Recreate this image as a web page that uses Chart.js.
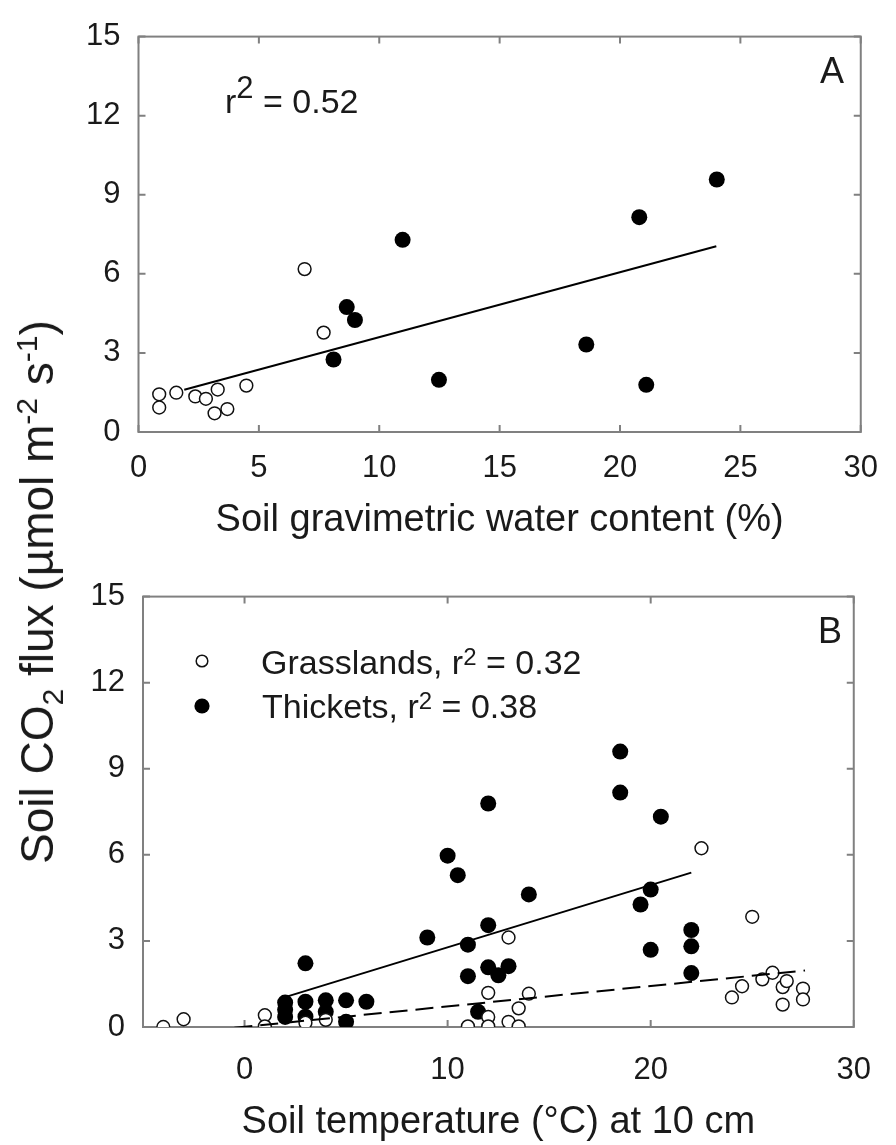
<!DOCTYPE html>
<html>
<head>
<meta charset="utf-8">
<script src="https://cdn.jsdelivr.net/npm/chart.js@4.4.1/dist/chart.umd.min.js"></script>
<style>
    html, body { margin: 0; padding: 0; background: #fff; }
    body { width: 896px; height: 1145px; position: relative; overflow: hidden; font-family: "Liberation Sans", Arial, sans-serif; }
    canvas { position: absolute; left: 0; }
    #chartA { top: 0; }
    #chartB { top: 560px; }
    #ytitle {
        position: absolute; left: 37px; top: 592px;
        transform: translate(-50%, -50%) rotate(-90deg);
        white-space: nowrap; font-size: 46px; color: #1a1a1a; line-height: 1;
    }
    #ytitle sub, #ytitle sup { font-size: 30px; line-height: 0; }
</style>
</head>
<body>
<canvas id="chartA" width="896" height="560"></canvas>
<canvas id="chartB" width="896" height="585"></canvas>
<div id="ytitle">Soil CO<sub>2</sub> flux (µmol m<sup>-2</sup> s<sup>-1</sup>)</div>
<script>
// panel A: soil gravimetric water content (%) vs soil CO2 flux
const gwcGrassX = [0.86, 0.86, 1.57, 2.36, 2.8, 3.29, 3.16, 3.69, 4.48, 6.9, 7.69];
const gwcGrassY = [1.43, 0.93, 1.49, 1.35, 1.26, 1.61, 0.71, 0.87, 1.76, 6.18, 3.77];
const gwcThicketX = [10.97, 8.65, 8.99, 8.1, 12.48, 18.6, 20.8, 21.09, 24.02];
const gwcThicketY = [7.29, 4.74, 4.25, 2.75, 1.98, 3.32, 8.15, 1.79, 9.58];
const gwcFitX = [1.9, 24.0];
const gwcFitY = [1.6, 7.05];

// panel B: soil temperature (°C) at 10 cm vs soil CO2 flux
const tempGrassX = [-4.0, -3.0, 1.0, 1.0, 3.0, 4.0, 11.0, 12.0, 12.0, 12.0, 13.0, 13.0, 13.5, 13.5, 14.0,
    22.5, 25.0, 24.0, 24.5, 25.5, 26.0, 26.5, 26.5, 26.7, 27.5, 27.5];
const tempGrassY = [0.0, 0.27, 0.41, 0.02, 0.15, 0.25, 0.02, 1.19, 0.35, 0.02, 3.12, 0.18, 0.65, 0.02, 1.16,
    6.23, 3.84, 1.03, 1.42, 1.66, 1.89, 1.39, 0.78, 1.6, 1.34, 0.96];
const tempThicketX = [2.0, 2.0, 2.0, 3.0, 3.0, 3.0, 4.0, 4.0, 5.0, 5.0, 6.0, 9.0, 10.0, 10.5, 11.0, 11.0, 11.5,
    12.0, 12.0, 12.0, 12.5, 13.0, 14.0, 18.5, 18.5, 19.5, 20.0, 20.0, 20.5, 22.0, 22.0, 22.0];
const tempThicketY = [0.85, 0.6, 0.35, 2.22, 0.88, 0.36, 0.93, 0.53, 0.93, 0.18, 0.88, 3.12, 5.97, 5.29, 2.87, 1.77, 0.53,
    7.79, 3.55, 2.08, 1.8, 2.12, 4.62, 9.6, 8.17, 4.27, 4.79, 2.69, 7.33, 3.38, 2.81, 1.88];
const tempGrassFitX = [-0.5, 27.6];
const tempGrassFitY = [-0.03, 1.97];
const tempThicketFitX = [2.0, 22.0];
const tempThicketFitY = [1.04, 5.38];

// tick labels
const xTicksA = [0, 5, 10, 15, 20, 25, 30];
const xTicksB = [0, 10, 20, 30];
const yTicks = [0, 3, 6, 9, 12, 15];

const FONT = '"Liberation Sans", Arial, sans-serif';
const INK = '#1a1a1a';
const FRAME = '#808080';

const pts = (xs, ys) => xs.map((x, i) => ({ x: x, y: ys[i] }));

function drawRich(ctx, parts, x, y, size, align) {
    let w = 0;
    parts.forEach(p => {
        ctx.font = `${Math.round(size * (p.scale || 1))}px ${FONT}`;
        w += ctx.measureText(p.t).width;
    });
    let cx = align === 'center' ? x - w / 2 : x;
    parts.forEach(p => {
        ctx.font = `${Math.round(size * (p.scale || 1))}px ${FONT}`;
        ctx.fillText(p.t, cx, y - (p.rise || 0));
        cx += ctx.measureText(p.t).width;
    });
}

// box round the plot with short inward ticks on every side
const framePlugin = {
    id: 'frame',
    beforeDatasetsDraw(chart) {
        const { ctx, chartArea: a, scales: { x, y } } = chart;
        ctx.save();
        ctx.strokeStyle = FRAME;
        ctx.lineWidth = 2;
        ctx.strokeRect(a.left, a.top, a.right - a.left, a.bottom - a.top);
        ctx.beginPath();
        x.ticks.forEach(t => {
            const px = x.getPixelForValue(t.value);
            ctx.moveTo(px, a.bottom); ctx.lineTo(px, a.bottom - 7);
            ctx.moveTo(px, a.top); ctx.lineTo(px, a.top + 7);
        });
        y.ticks.forEach(t => {
            const py = y.getPixelForValue(t.value);
            ctx.moveTo(a.left, py); ctx.lineTo(a.left + 7, py);
            ctx.moveTo(a.right, py); ctx.lineTo(a.right - 7, py);
        });
        ctx.stroke();
        ctx.restore();
    }
};

// annotations and the hand-made legend
const notesPlugin = {
    id: 'notes',
    afterDraw(chart, args, opts) {
        const ctx = chart.ctx;
        ctx.save();
        ctx.textBaseline = 'alphabetic';
        (opts.markers || []).forEach(m => {
            ctx.beginPath();
            ctx.arc(m.x, m.y, m.r, 0, Math.PI * 2);
            if (m.open) {
                ctx.fillStyle = '#fff'; ctx.fill();
                ctx.lineWidth = 1.5; ctx.strokeStyle = '#111'; ctx.stroke();
            } else {
                ctx.fillStyle = '#000'; ctx.fill();
            }
        });
        ctx.fillStyle = INK;
        (opts.texts || []).forEach(t => drawRich(ctx, t.parts, t.x, t.y, t.size, t.align));
        ctx.restore();
    }
};

function scatterSets(grassX, grassY, thicketX, thicketY, grassFit, thicketFit) {
    const sets = [];
    if (grassFit) {
        sets.push({ data: pts(grassFit[0], grassFit[1]), showLine: true, borderColor: '#000', borderWidth: 2,
            borderDash: [18, 8], pointRadius: 0, order: 0 });
    }
    sets.push({ data: pts(thicketFit[0], thicketFit[1]), showLine: true, borderColor: '#000', borderWidth: 2,
        pointRadius: 0, order: 0 });
    sets.push({ data: pts(grassX, grassY), pointRadius: 6.4, pointBackgroundColor: '#fff',
        pointBorderColor: '#111', pointBorderWidth: 1.5, order: 1 });
    sets.push({ data: pts(thicketX, thicketY), pointRadius: 8, pointBackgroundColor: '#000',
        pointBorderWidth: 0, order: 2 });
    return sets;
}

function makeScales(cfg) {
    return {
        x: {
            type: 'linear', min: cfg.xMin, max: 30,
            afterBuildTicks: s => { s.ticks = cfg.xTicks.map(v => ({ value: v })); },
            ticks: { padding: cfg.xPad, color: INK, font: { size: 31, family: FONT }, maxRotation: 0, autoSkip: false },
            grid: { display: false, drawTicks: false },
            border: { display: false },
            title: { display: true, text: cfg.xTitle, color: INK, font: { size: 38, family: FONT },
                padding: { top: 0, bottom: cfg.titlePad } },
            afterFit: s => { s.height = cfg.xHeight; }
        },
        y: {
            type: 'linear', min: 0, max: 15,
            afterBuildTicks: s => { s.ticks = yTicks.map(v => ({ value: v })); },
            ticks: { padding: 18, color: INK, font: { size: 31, family: FONT } },
            grid: { display: false, drawTicks: false },
            border: { display: false },
            afterFit: s => { s.width = cfg.yWidth; }
        }
    };
}

new Chart(document.getElementById('chartA'), {
    type: 'scatter',
    data: { datasets: scatterSets(gwcGrassX, gwcGrassY, gwcThicketX, gwcThicketY, null, [gwcFitX, gwcFitY]) },
    options: {
        responsive: false, animation: false, devicePixelRatio: 1,
        layout: { padding: { top: 25, right: 25, bottom: 0, left: 0 } },
        scales: makeScales({ xMin: 0, xTicks: xTicksA, xPad: 18, xTitle: 'Soil gravimetric water content (%)',
            titlePad: 17, xHeight: 128, yWidth: 138.5 }),
        plugins: {
            legend: { display: false }, tooltip: { enabled: false },
            notes: {
                texts: [
                    { parts: [{ t: 'r' }, { t: '2', scale: 0.9, rise: 15 }, { t: ' = 0.52' }], x: 225, y: 113, size: 34 },
                    { parts: [{ t: 'A' }], x: 832, y: 83, size: 36, align: 'center' }
                ]
            }
        }
    },
    plugins: [framePlugin, notesPlugin]
});

new Chart(document.getElementById('chartB'), {
    type: 'scatter',
    data: { datasets: scatterSets(tempGrassX, tempGrassY, tempThicketX, tempThicketY,
        [tempGrassFitX, tempGrassFitY], [tempThicketFitX, tempThicketFitY]) },
    options: {
        responsive: false, animation: false, devicePixelRatio: 1,
        layout: { padding: { top: 33, right: 25, bottom: 0, left: 0 } },
        scales: makeScales({ xMin: -5, xTicks: xTicksB, xPad: 25, xTitle: 'Soil temperature (°C) at 10 cm',
            titlePad: 0, xHeight: 118, yWidth: 143 }),
        plugins: {
            legend: { display: false }, tooltip: { enabled: false },
            notes: {
                markers: [
                    { x: 202, y: 101, r: 5.8, open: true },
                    { x: 202, y: 146, r: 7.6 }
                ],
                texts: [
                    { parts: [{ t: 'Grasslands, r' }, { t: '2', scale: 0.7, rise: 9 }, { t: ' = 0.32' }], x: 261, y: 113.5, size: 34 },
                    { parts: [{ t: 'Thickets, r' }, { t: '2', scale: 0.7, rise: 9 }, { t: ' = 0.38' }], x: 262, y: 158, size: 34 },
                    { parts: [{ t: 'B' }], x: 830, y: 83, size: 36, align: 'center' }
                ]
            }
        }
    },
    plugins: [framePlugin, notesPlugin]
});
</script>
</body>
</html>
